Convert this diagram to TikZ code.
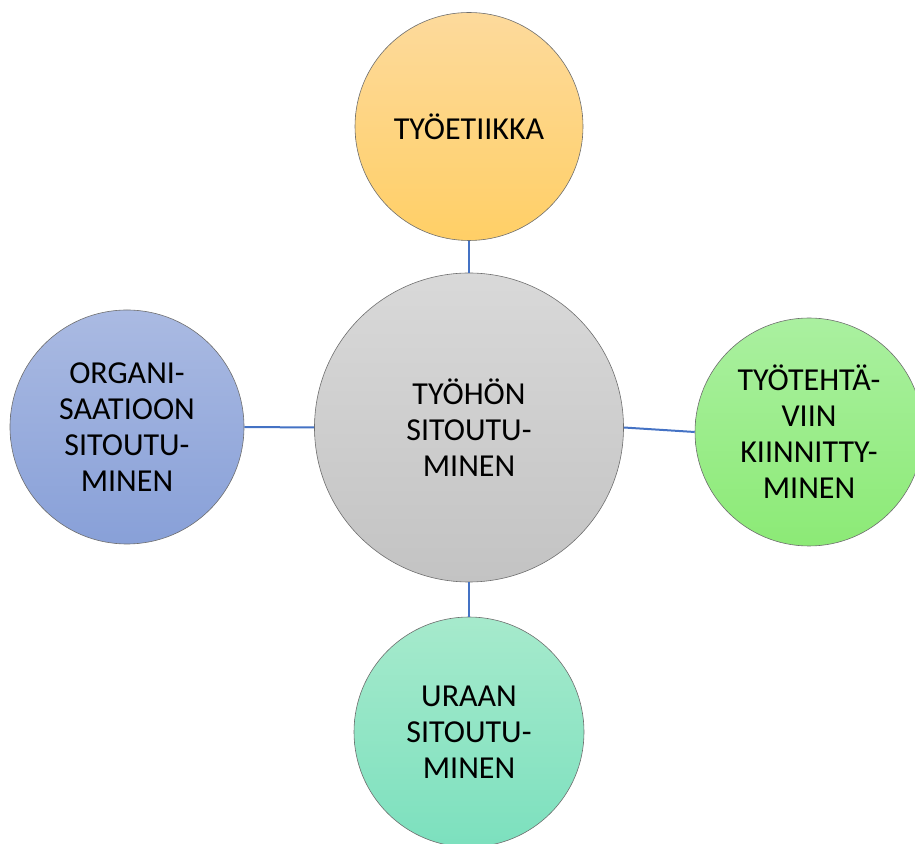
\documentclass[tikz,border=0pt]{standalone}
\usepackage{fontspec}
\setmainfont{Carlito}
\usetikzlibrary{positioning}

\definecolor{linkblue}{HTML}{4472C4}
\definecolor{rimgray}{HTML}{6E6E6E}

\tikzset{
    bubble/.style={circle, draw=rimgray, line width=0.6pt, inner sep=0pt,
        align=center, font=\fontsize{32}{36}\selectfont},
    link/.style={draw=linkblue, line width=2pt}
}

\begin{document}
\begin{tikzpicture}[x=1pt, y=1pt]

    % Define parameters for easy adjustment
    \def\hubSize{309pt}     % Diameter of the central circle
    \def\petalSize{230pt}   % Diameter of the outer circles

    % 0. Fix the page to the reference size
    \useasboundingbox (0,0) rectangle (915,843);

    % 1. Central circle
    \node[bubble, minimum size=\hubSize, top color=gray!30, bottom color=gray!47]
        (hub) at (469,415.5) {TYÖHÖN\\SITOUTU-\\MINEN};

    % 2. Outer circles
    \node[bubble, minimum size=228pt, top color={rgb,255:red,253;green,218;blue,156},
        bottom color={rgb,255:red,255;green,207;blue,102}]
        (ethic) at (469,716.5) {TYÖETIIKKA};
    \node[bubble, minimum size=234pt, top color={rgb,255:red,170;green,186;blue,226},
        bottom color={rgb,255:red,136;green,160;blue,216}]
        (organ) at (127,416) {ORGANI-\\SAATIOON\\SITOUTU-\\MINEN};
    \node[bubble, minimum size=228pt, top color={rgb,255:red,170;green,240;blue,160},
        bottom color={rgb,255:red,140;green,234;blue,118}]
        (task) at (809,411) {TYÖTEHTÄ-\\VIIN\\KIINNITTY-\\MINEN};
    \node[bubble, minimum size=\petalSize, top color={rgb,255:red,166;green,234;blue,204},
        bottom color={rgb,255:red,124;green,224;blue,190}]
        (career) at (469,111) {URAAN\\SITOUTU-\\MINEN};

    % 3. Connectors from the hub
    \draw[link] (ethic.south) -- (hub.north);
    \draw[link] (organ.east) -- (hub.west);
    \draw[link] (hub.east) -- (task.west);
    \draw[link] (hub.south) -- (career.north);
\end{tikzpicture}
\end{document}
